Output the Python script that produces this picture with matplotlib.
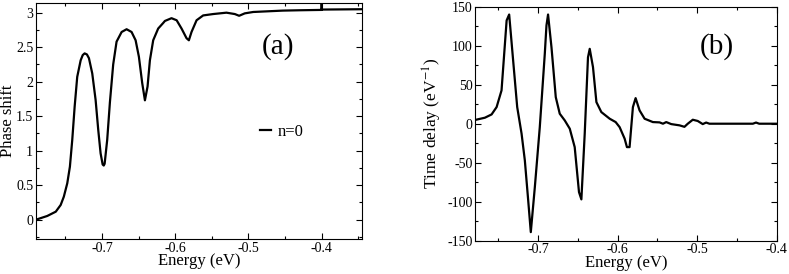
import matplotlib.pyplot as plt
from matplotlib.ticker import MultipleLocator, FormatStrFormatter

plt.rcParams['font.family'] = ['Liberation Serif', 'DejaVu Serif']
plt.rcParams['mathtext.fontset'] = 'stix'
plt.rcParams['axes.unicode_minus'] = False

# phase shift (panel a)
energy_a = [-0.79, -0.7746, -0.763, -0.7563, -0.752, -0.7473, -0.7437, -0.7405, -0.7372,
            -0.7337, -0.729, -0.7262, -0.7236, -0.7205, -0.7177, -0.7132, -0.7086, -0.705, -0.7018,
            -0.699, -0.6975, -0.6963, -0.6928, -0.6891, -0.6846, -0.68, -0.6731, -0.6663, -0.6595,
            -0.654, -0.6495, -0.645, -0.6413, -0.6377, -0.6345, -0.63, -0.6232, -0.6164, -0.614,
            -0.605, -0.598, -0.5913, -0.5845, -0.5813, -0.5777, -0.5708, -0.5618, -0.5482,
            -0.53, -0.5186, -0.5127, -0.505, -0.4935, -0.453, -0.43, -0.4, -0.4, -0.4, -0.345]
phase = [0.0, 0.054, 0.116, 0.213, 0.333, 0.527, 0.768, 1.155, 1.64,
         2.07, 2.31, 2.385, 2.41, 2.395, 2.34, 2.12, 1.735, 1.30, 0.962,
         0.80, 0.785, 0.81, 1.155, 1.70, 2.25, 2.58, 2.72, 2.76, 2.72,
         2.60, 2.36, 1.98, 1.73, 1.93, 2.31, 2.60, 2.77, 2.85, 2.88,
         2.92, 2.89, 2.77, 2.63, 2.60, 2.72, 2.89, 2.96, 2.98,
         3.0, 2.98, 2.955, 2.99, 3.01, 3.03, 3.035, 3.04, 3.3, 3.045, 3.05]

# time delay (panel b)
energy_b = [-0.778, -0.7669, -0.7585, -0.7522, -0.746, -0.7396, -0.7364, -0.7314, -0.7263,
            -0.7208, -0.7167, -0.7125, -0.7092, -0.7041, -0.6979, -0.6916, -0.6895, -0.6875,
            -0.6832, -0.6778, -0.6728, -0.6665, -0.6602, -0.654, -0.6486, -0.6456, -0.6414,
            -0.6373, -0.6351, -0.631, -0.6267, -0.6205, -0.61, -0.6025, -0.5975, -0.5912,
            -0.5883, -0.585, -0.5808, -0.5774, -0.5724, -0.5661, -0.5557, -0.5473, -0.543,
            -0.5389, -0.5326, -0.5222, -0.516, -0.5118, -0.5055, -0.4993, -0.493, -0.4887,
            -0.4846, -0.43, -0.426, -0.422, -0.4]
delay = [5.1, 7.7, 11.9, 21.3, 42.7, 132.4, 140, 81, 21.3,
         -12.8, -47, -98, -139, -81, -4.4, 89.7, 126, 140,
         98, 34, 12.8, 4.2, -6.4, -30, -87.7, -97, -12.8,
         85, 96, 72.6, 27.7, 14.9, 6.4, 2.1, -4.4, -19.2,
         -30, -30, 21.3, 32.8, 17, 6.4, 2.1, 1.7, 0.0,
         2.1, -0.5, -2.1, -4.0, 0.0, 5.1, 3.5, -0.5, 1.5,
         0.0, 0.0, 1.5, 0.0, 0.0]

fig = plt.figure(figsize=(7.89, 2.74), dpi=100)
ax1 = fig.add_axes([0.0456, 0.1277, 0.4132, 0.8603])
ax2 = fig.add_axes([0.6024, 0.1215, 0.382, 0.854])

ax1.plot(energy_a, phase, color='black', lw=1.6, label='n=0')
ax1.set_xlim(-0.79, -0.345)
ax1.set_ylim(-0.28, 3.136)
ax1.xaxis.set_major_locator(MultipleLocator(0.1))
ax1.xaxis.set_minor_locator(MultipleLocator(0.05))
ax1.yaxis.set_major_locator(MultipleLocator(0.5))
ax1.yaxis.set_minor_locator(MultipleLocator(0.25))
ax1.set_xlabel('Energy (eV)', fontsize=12, labelpad=-1)
ax1.set_ylabel('Phase shift', fontsize=12)
ax1.yaxis.set_label_coords(-0.062, 0.5)
ax1.text(0.742, 0.816, '(a)', transform=ax1.transAxes, fontsize=21, ha='center', va='center')
ax1.legend(loc='center left', bbox_to_anchor=(0.64, 0.455), frameon=False,
           handlelength=0.7, handletextpad=0.4, fontsize=12)

ax2.plot(energy_b, delay, color='black', lw=1.6)
ax2.set_xlim(-0.779, -0.4)
ax2.set_ylim(-150, 150)
ax2.xaxis.set_major_locator(MultipleLocator(0.1))
ax2.xaxis.set_minor_locator(MultipleLocator(0.05))
ax2.yaxis.set_major_locator(MultipleLocator(50))
ax2.yaxis.set_minor_locator(MultipleLocator(25))
ax2.set_xlabel('Energy (eV)', fontsize=12, labelpad=-1)
ax2.set_ylabel('Time delay (eV$^{-1}$)', fontsize=12.5)
ax2.yaxis.set_label_coords(-0.105, 0.5)
ax2.text(0.801, 0.829, '(b)', transform=ax2.transAxes, fontsize=21, ha='center', va='center')

for ax in (ax1, ax2):
    ax.xaxis.set_major_formatter(FormatStrFormatter('%g'))
    ax.yaxis.set_major_formatter(FormatStrFormatter('%g'))
    ax.tick_params(which='both', direction='in', top=True, right=True, labelsize=10, pad=2)
    ax.tick_params(which='major', length=4, width=0.8)
    ax.tick_params(which='minor', length=2, width=0.8)
    for s in ax.spines.values():
        s.set_linewidth(0.8)

fig.savefig('out.png', dpi=100)
